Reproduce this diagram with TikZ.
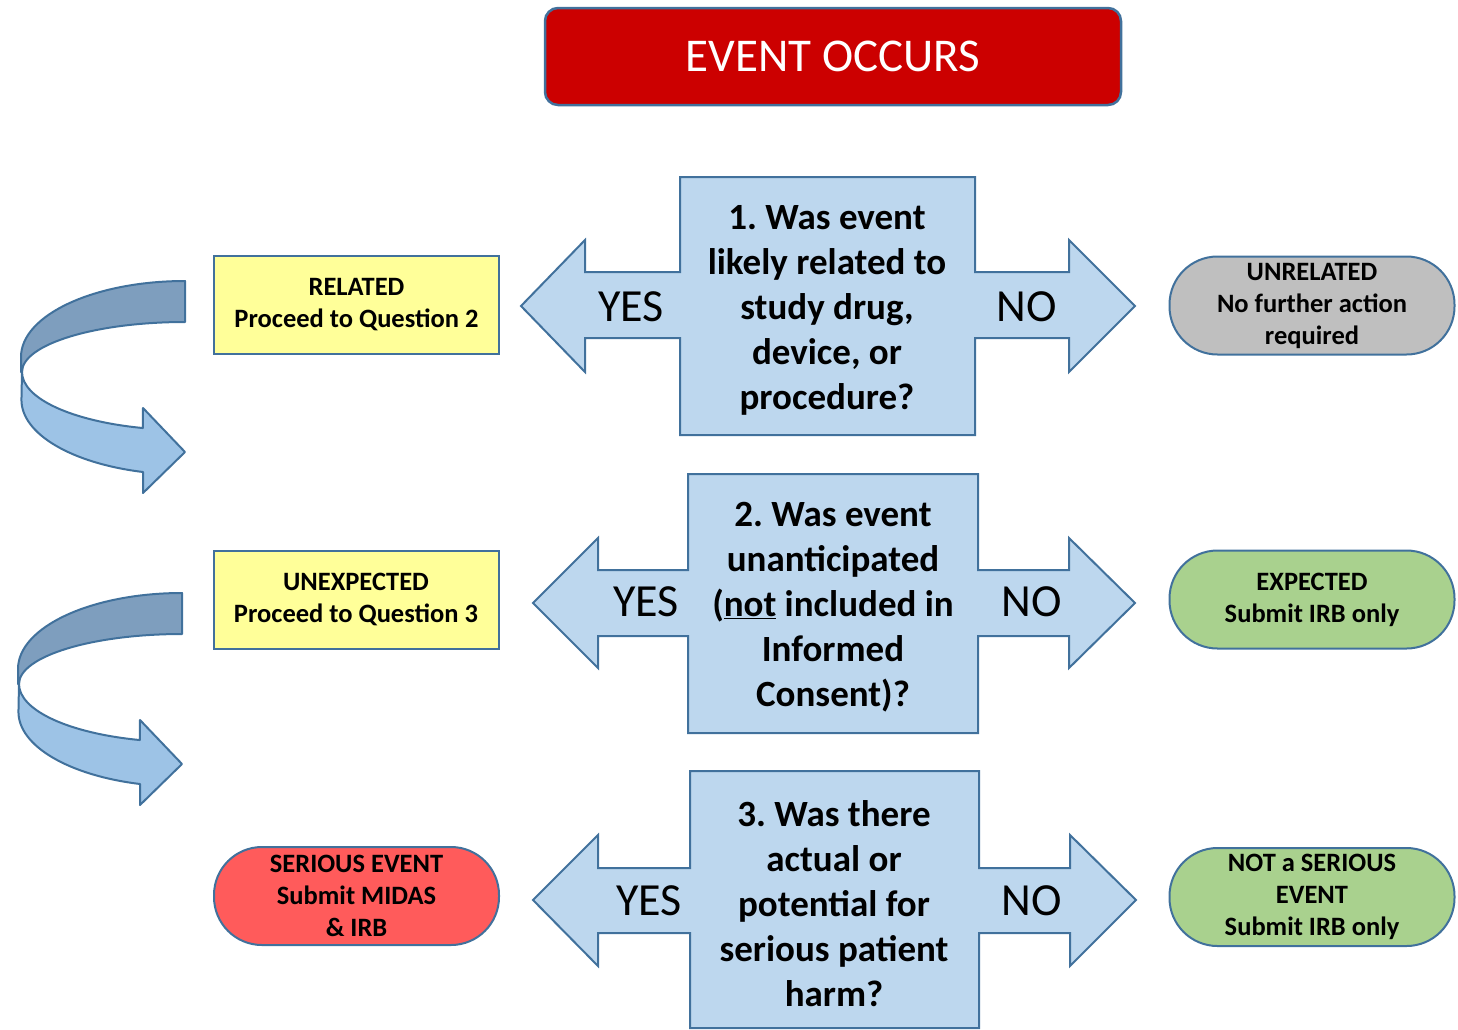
\documentclass[tikz,border=0pt]{standalone}
\usepackage{fontspec}
\setmainfont{Carlito}
\usepackage{tikz}
\frenchspacing

\definecolor{edgeblue}{RGB}{65,113,156}
\definecolor{titlered}{RGB}{204,0,0}
\definecolor{qblue}{RGB}{189,215,238}
\definecolor{noteyellow}{RGB}{255,255,153}
\definecolor{pillgray}{RGB}{191,191,191}
\definecolor{pillgreen}{RGB}{169,209,142}
\definecolor{pillred}{RGB}{255,91,91}
\definecolor{ribdark}{RGB}{126,158,190}
\definecolor{riblight}{RGB}{157,195,230}

\begin{document}
\begin{tikzpicture}[x=1pt,y=1pt,
    notebox/.style={draw=edgeblue, line width=2pt, fill=noteyellow, inner sep=0pt,
      minimum width=285pt, minimum height=98pt, align=center,
      font=\fontsize{26.5}{32}\selectfont\bfseries},
    pill/.style={notebox, rounded corners=48pt},
    qshape/.style={draw=edgeblue, line width=2pt, fill=qblue},
    qtext/.style={align=center, inner sep=0pt, font=\fontsize{37}{45}\selectfont\bfseries},
    yesno/.style={inner sep=0pt, font=\fontsize{46}{50}\selectfont},
    ribbon/.style={draw=edgeblue, line width=2pt, line join=round}]
        \useasboundingbox (0,0) rectangle (1458,-1029);
        % title
        \node [draw=edgeblue, line width=2.5pt, fill=titlered, rounded corners=13pt,
          minimum width=576pt, minimum height=97pt, text=white,
          font=\fontsize{47}{50}\selectfont] (occurs) at (833,-56.5) {EVENT OCCURS};
        % question 1
        \draw [qshape] (680,-177) -- (975,-177) -- (975,-272) -- (1069,-272) -- (1069,-240)
          -- (1135,-306) -- (1069,-372) -- (1069,-338) -- (975,-338) -- (975,-435)
          -- (680,-435) -- (680,-338) -- (585,-338) -- (585,-372) -- (521,-306)
          -- (585,-240) -- (585,-272) -- (680,-272) -- cycle;
        \node [qtext] (q1) at (827,-310) {1. Was event\\likely related to\\study drug,\\device, or\\procedure?};
        \node [yesno] (q1yes) at (631,-307) {YES};
        \node [yesno] (q1no) at (1027,-307) {NO};
        % question 2
        \draw [qshape] (688,-474) -- (978,-474) -- (978,-570) -- (1069,-570) -- (1069,-538)
          -- (1135,-603) -- (1069,-668) -- (1069,-636) -- (978,-636) -- (978,-733)
          -- (688,-733) -- (688,-636) -- (598,-636) -- (598,-668) -- (533,-603)
          -- (598,-538) -- (598,-570) -- (688,-570) -- cycle;
        \node [qtext] (q2) at (833,-607) {2. Was event\\unanticipated\\(\underline{not} included in\\Informed\\Consent)?};
        \node [yesno] (q2yes) at (646,-602) {YES};
        \node [yesno] (q2no) at (1032,-602) {NO};
        % question 3
        \draw [qshape] (690,-771) -- (979,-771) -- (979,-868) -- (1070,-868) -- (1070,-835)
          -- (1136,-900) -- (1070,-966) -- (1070,-933) -- (979,-933) -- (979,-1028)
          -- (690,-1028) -- (690,-933) -- (598,-933) -- (598,-966) -- (533,-900)
          -- (598,-835) -- (598,-868) -- (690,-868) -- cycle;
        \node [qtext] (q3) at (834,-904) {3. Was there\\actual or\\potential for\\serious patient\\harm?};
        \node [yesno] (q3yes) at (649,-901) {YES};
        \node [yesno] (q3no) at (1032,-901) {NO};
        % outcomes
        \node [notebox] (related) at (356.5,-305) {RELATED\\Proceed to Question 2};
        \node [notebox] (unexpected) at (356,-599.5) {UNEXPECTED\\Proceed to Question 3};
        \node [pill, fill=pillred] (serious) at (356.5,-896) {SERIOUS EVENT\\Submit MIDAS\\\& IRB};
        \node [pill, fill=pillgray] (unrelated) at (1312,-305.5) {UNRELATED\\No further action\\required};
        \node [pill, fill=pillgreen] (expected) at (1312,-599.5) {EXPECTED\\Submit IRB only};
        \node [pill, fill=pillgreen] (notserious) at (1312,-897) {NOT a SERIOUS\\EVENT\\Submit IRB only};
        % curved arrows to the next question
        \foreach \dx/\dy in {0/0,-3/-312} {
          \begin{scope}[shift={(\dx,\dy)}]
            \draw [ribbon, fill=ribdark] (185,-281) arc [start angle=90, end angle=180, x radius=164, y radius=76]
              -- (21,-372) -- (22,-372) arc [start angle=180, end angle=90, x radius=163, y radius=50] -- cycle;
            \draw [ribbon, fill=riblight] (22,-372) arc [start angle=180, end angle=255, x radius=163, y radius=58]
              -- (143,-408) -- (185,-452) -- (143,-493) -- (143,-472)
              arc [start angle=255, end angle=180, x radius=164, y radius=74.6] -- cycle;
          \end{scope}
        }
\end{tikzpicture}
\end{document}
